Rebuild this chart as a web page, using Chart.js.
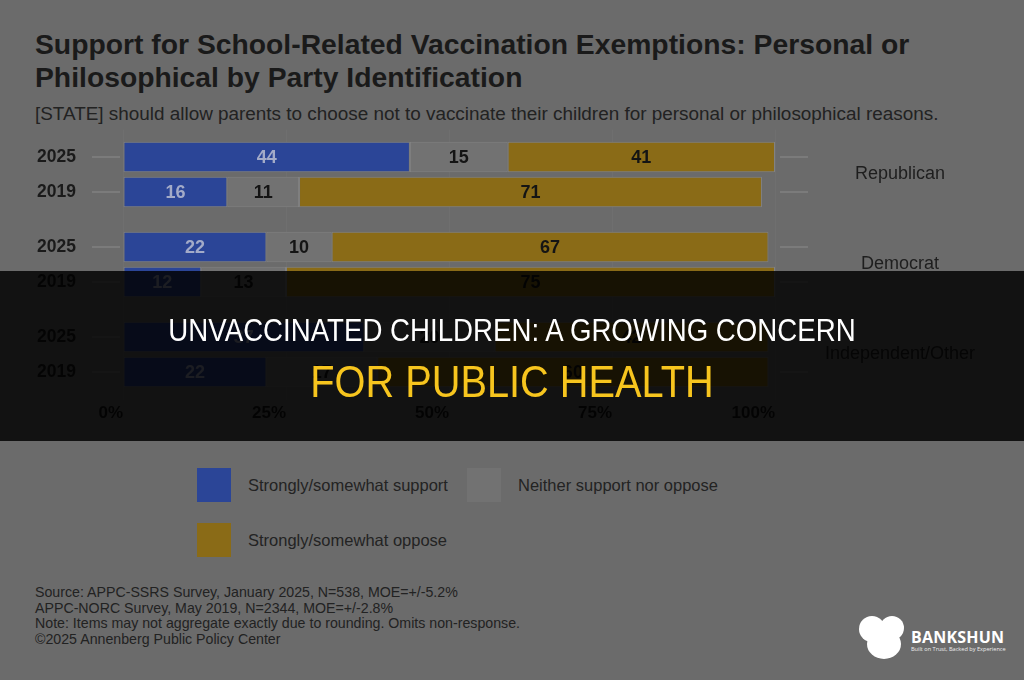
<!DOCTYPE html>
<html>
<head>
<meta charset="utf-8">
<script src="https://cdn.jsdelivr.net/npm/chart.js@4.4.1/dist/chart.umd.min.js"></script>
<style>
html, body { margin: 0; padding: 0; }
body { width: 1024px; height: 680px; background: #6b6b6b; position: relative; overflow: hidden;
       font-family: "Liberation Sans", Arial, sans-serif; color: #1c1c1c; }
#title { position: absolute; left: 35px; top: 28px; width: 980px; font-size: 28.3px; font-weight: bold; line-height: 33px; color: #1a1a1a; }
#sub { position: absolute; left: 35px; top: 103px; font-size: 18.9px; color: #222; white-space: nowrap; }
#wrap { position: absolute; left: 0; top: 120px; width: 1024px; height: 310px; }
#legend { position: absolute; left: 197px; top: 468px; display: grid; grid-template-columns: 270px auto; row-gap: 21px; }
#legend .item { display: flex; align-items: center; font-size: 16.5px; color: #232323; }
#legend .box { width: 34px; height: 34px; margin-right: 17px; }
#notes { position: absolute; left: 35px; top: 585px; font-size: 14.2px; line-height: 15.7px; color: #222; }
#band { position: absolute; left: 0; top: 271px; width: 1024px; height: 170px; background: rgba(0,0,0,0.83); }
.head { position: absolute; left: 0; width: 1024px; text-align: center; font-family: "Liberation Sans", Arial, sans-serif; white-space: nowrap; }
#h1 { top: 313px; font-size: 31px; color: #ffffff; transform: scaleX(0.892); }
#h2 { top: 357px; font-size: 44px; color: #f7c51e; transform: scaleX(0.903); }
#logo { position: absolute; left: 856px; top: 614px; }
#brand { position: absolute; left: 911px; top: 626px; font-family: "Open Sans", Arial, sans-serif; font-weight: bold; font-size: 16px; color: #fff; letter-spacing: 0.2px; }
#tag { position: absolute; left: 911px; top: 645px; font-family: "Open Sans", Arial, sans-serif; font-size: 5.6px; color: #eee; white-space: nowrap; }
</style>
</head>
<body>
<div id="title">Support for School-Related Vaccination Exemptions: Personal or<br>Philosophical by Party Identification</div>
<div id="sub">[STATE] should allow parents to choose not to vaccinate their children for personal or philosophical reasons.</div>
<div id="wrap"><canvas id="chart"></canvas></div>
<div id="legend"></div>
<div id="notes">
Source: APPC-SSRS Survey, January 2025, N=538, MOE=+/-5.2%<br>
APPC-NORC Survey, May 2019, N=2344, MOE=+/-2.8%<br>
Note: Items may not aggregate exactly due to rounding. Omits non-response.<br>
©2025 Annenberg Public Policy Center
</div>
<div id="band"></div>
<div class="head" id="h1">UNVACCINATED CHILDREN: A GROWING CONCERN</div>
<div class="head" id="h2">FOR PUBLIC HEALTH</div>
<svg id="logo" width="52" height="50" viewBox="0 0 52 50">
  <circle cx="16" cy="15" r="13" fill="#fff"/>
  <circle cx="36" cy="14" r="12" fill="#fff"/>
  <ellipse cx="28" cy="30" rx="17" ry="15" fill="#fff"/>
</svg>
<div id="brand">BANKSHUN</div>
<div id="tag">Built on Trust, Backed by Experience</div>

<script>
// chart data
const parties = ['Republican', 'Democrat', 'Independent/Other'];
const years = ['2025', '2019'];
const seriesNames = ['Strongly/somewhat support', 'Neither support nor oppose', 'Strongly/somewhat oppose'];
const support2025 = [44, 22, 37];
const neither2025 = [15, 10, 20];
const oppose2025 = [41, 67, 42];
const support2019 = [16, 12, 22];
const neither2019 = [11, 13, 17];
const oppose2019 = [71, 75, 60];
const xTicks = [0, 25, 50, 75, 100];

// colours (already dimmed like the picture)
const colors = ['#2b4597', '#727272', '#8a6b17'];
const labelColors = ['#a3abc8', '#141414', '#141414'];

// legend
const legend = document.getElementById('legend');
seriesNames.forEach((name, i) => {
    const item = document.createElement('div');
    item.className = 'item';
    item.innerHTML = `<div class="box" style="background:${colors[i]}"></div>${name}`;
    legend.appendChild(item);
});

function makeSet(data, i, year) {
    return {
        label: seriesNames[i] + ' ' + year,
        data: data,
        stack: year,
        backgroundColor: colors[i],
        borderColor: '#828282',
        borderWidth: 1,
        borderSkipped: false,
        labelColor: labelColors[i]
    };
}

// value labels inside the bars
const barLabels = {
    id: 'barLabels',
    afterDatasetsDraw(chart) {
        const ctx = chart.ctx;
        ctx.save();
        ctx.font = 'bold 18px "Liberation Sans", Arial';
        ctx.textAlign = 'center';
        ctx.textBaseline = 'middle';
        chart.data.datasets.forEach((ds, i) => {
            chart.getDatasetMeta(i).data.forEach((bar, j) => {
                const c = bar.getCenterPoint();
                ctx.fillStyle = ds.labelColor;
                ctx.fillText(ds.data[j], c.x, c.y + 1);
            });
        });
        ctx.restore();
    }
};

// short tick lines beside each bar
const sideTicks = {
    id: 'sideTicks',
    beforeDatasetsDraw(chart) {
        const ctx = chart.ctx;
        const area = chart.chartArea;
        ctx.save();
        ctx.strokeStyle = '#7b7b7b';
        ctx.lineWidth = 2;
        [0, 3].forEach(i => {
            chart.getDatasetMeta(i).data.forEach(bar => {
                const y = bar.getCenterPoint().y;
                ctx.beginPath();
                ctx.moveTo(area.left - 31, y); ctx.lineTo(area.left - 3, y);
                ctx.moveTo(area.right + 5, y); ctx.lineTo(area.right + 33, y);
                ctx.stroke();
            });
        });
        ctx.restore();
    }
};

function noPadV(scale, w) {
    scale.width = w;
    scale.paddingTop = 0;
    scale.paddingBottom = 0;
}

const ctx = document.getElementById('chart').getContext('2d');
const chart = new Chart(ctx, {
    type: 'bar',
    data: {
        labels: parties,
        datasets: [
            makeSet(support2025, 0, years[0]),
            makeSet(neither2025, 1, years[0]),
            makeSet(oppose2025, 2, years[0]),
            makeSet(support2019, 0, years[1]),
            makeSet(neither2019, 1, years[1]),
            makeSet(oppose2019, 2, years[1])
        ]
    },
    options: {
        indexAxis: 'y',
        responsive: true,
        maintainAspectRatio: false,
        animation: false,
        categoryPercentage: 0.78,
        barPercentage: 0.87,
        layout: { padding: { top: 9.5, bottom: 3.5, left: 0, right: 0 } },
        plugins: { legend: { display: false }, tooltip: { enabled: false } },
        scales: {
            x: {
                stacked: true,
                min: 0,
                max: 100,
                afterBuildTicks: scale => { scale.ticks = xTicks.map(v => ({ value: v })); },
                afterFit: scale => { scale.paddingLeft = 0; scale.paddingRight = 0; scale.height = 27; },
                grid: { color: '#6f6f6f', drawTicks: false },
                border: { display: false },
                ticks: {
                    align: 'end',
                    padding: 3.5,
                    color: '#161616',
                    font: { family: '"Liberation Sans", Arial', size: 17, weight: 'bold' },
                    callback: v => v + '%'
                }
            },
            y: {
                stacked: true,
                grid: { display: false, drawTicks: false },
                border: { display: false },
                afterFit: scale => noPadV(scale, 123),
                ticks: {
                    padding: 47,
                    color: '#1a1a1a',
                    font: { family: '"Liberation Sans", Arial', size: 17.5, weight: 'bold', lineHeight: '35px' },
                    callback: () => years
                }
            },
            y2: {
                type: 'category',
                position: 'right',
                labels: parties,
                offset: true,
                grid: { display: false, drawTicks: false },
                border: { display: false },
                afterFit: scale => noPadV(scale, 249),
                ticks: {
                    padding: 50,
                    crossAlign: 'center',
                    color: '#1e1e1e',
                    font: { family: '"Liberation Sans", Arial', size: 18 }
                }
            }
        }
    },
    plugins: [sideTicks, barLabels]
});
</script>
</body>
</html>
